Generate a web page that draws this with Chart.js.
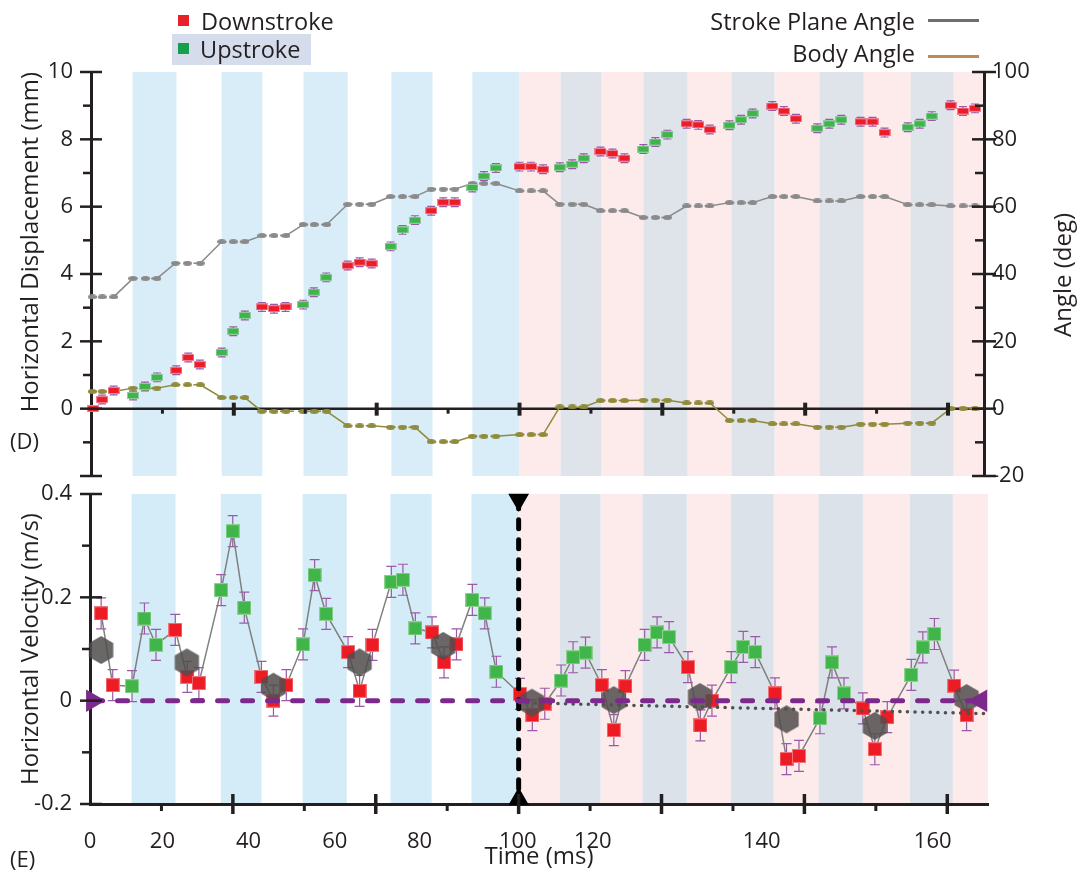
<!DOCTYPE html>
<html><head><meta charset="utf-8">
<script src="https://cdn.jsdelivr.net/npm/chart.js@4.4.1/dist/chart.umd.min.js"></script>
<style>
body{margin:0;background:#fff;}
#wrap{position:relative;width:1081px;height:879px;overflow:hidden;font-family:'Open Sans',sans-serif;color:#231f20;}
canvas{position:absolute;left:0;}
.t{position:absolute;font-size:23.5px;height:30px;line-height:30px;white-space:nowrap;}
.b{position:absolute;}
</style></head><body>
<div id="wrap">
<canvas id="top" width="1081" height="495" style="top:0;width:1081px;height:495px"></canvas>
<canvas id="bot" width="1081" height="399" style="top:480px;width:1081px;height:399px"></canvas>
<div class="b" style="left:178px;top:15px;width:11px;height:11px;background:#e8202a"></div>
<div class="t" style="left:201px;top:6px">Downstroke</div>
<div class="b" style="left:172px;top:34px;width:139px;height:31px;background:#d5dcec"></div>
<div class="b" style="left:178px;top:43px;width:11px;height:11px;background:#14a04b"></div>
<div class="t" style="left:200px;top:34px">Upstroke</div>
<div class="t" style="right:166px;top:6px">Stroke Plane Angle</div>
<div class="b" style="left:928px;top:19px;width:51px;height:3px;background:#6d6e71"></div>
<div class="t" style="right:166px;top:38px">Body Angle</div>
<div class="b" style="left:928px;top:55px;width:51px;height:3px;background:#c08a55"></div>
<div class="t" style="left:1062px;top:275px;font-size:24px;transform:translate(-50%,-50%) rotate(-90deg);">Angle (deg)</div>
<div class="t" style="left:10px;top:425px;font-size:22px">(D)</div>
<div class="t" style="left:10px;top:843px;font-size:22px">(E)</div>
</div>
<script>
// ---------- DATA ----------
const upBands   = [[9.7,19.95],[30.5,40.0],[49.6,59.9],[70.1,79.7],[89.0,100.0]];
const downBands = [[100.0,109.6],[119.1,128.9],[139.2,149.5],[159.5,170.0],[180.3,191.3],[201.3,209.5]];
const lateUpBands = [[109.6,119.1],[128.9,139.2],[149.5,159.5],[170.0,180.3],[191.3,201.3]];

const downTime = [0.5,2.6,5.3,19.9,22.7,25.4,39.9,42.7,45.4,59.9,62.7,65.5,79.4,82.2,84.9,100.0,102.7,105.5,118.9,121.7,124.5,139.0,141.7,144.4,159.0,161.7,164.5,179.6,182.4,185.2,200.6,203.5,206.3];
const downDisp = [0.00,0.27,0.54,1.14,1.52,1.31,3.02,2.97,3.02,4.25,4.35,4.31,5.88,6.13,6.13,7.19,7.19,7.11,7.64,7.58,7.44,8.46,8.43,8.29,8.99,8.84,8.61,8.52,8.52,8.20,9.01,8.84,8.92];
const downDispErr = [0,0.13,0.13,0.13,0.13,0.13,0.13,0.13,0.13,0.13,0.13,0.13,0.13,0.13,0.13,0.13,0.13,0.13,0.13,0.13,0.13,0.13,0.13,0.13,0.13,0.13,0.13,0.13,0.13,0.13,0.13,0.13,0.13];

const upTime = [9.8,12.6,15.4,30.5,33.2,35.9,49.5,52.0,54.9,69.9,72.7,75.6,89.0,91.7,94.5,109.4,112.3,115.0,128.9,131.7,134.5,149.0,151.7,154.4,169.5,172.3,175.1,190.6,193.4,196.2];
const upDisp = [0.39,0.66,0.93,1.67,2.30,2.77,3.09,3.46,3.90,4.82,5.31,5.60,6.57,6.91,7.15,7.17,7.26,7.44,7.71,7.92,8.14,8.42,8.58,8.77,8.33,8.46,8.58,8.36,8.46,8.69];
const upDispErr = [0.13,0.13,0.13,0.13,0.13,0.13,0.13,0.13,0.13,0.13,0.13,0.13,0.13,0.13,0.13,0.13,0.13,0.13,0.13,0.13,0.13,0.13,0.13,0.13,0.13,0.13,0.13,0.13,0.13,0.13];

const angleTime = [0.3,2.6,5.3,9.8,12.7,15.4,19.7,22.5,25.5,30.5,33.2,35.9,39.9,42.7,45.5,49.5,52.1,55.0,59.9,62.7,65.5,69.9,72.7,75.6,79.4,82.2,84.9,89.0,91.7,94.5,100.0,102.7,105.5,109.4,112.3,115.0,118.9,121.7,124.5,128.9,131.7,134.5,139.0,141.7,144.4,149.0,151.7,154.4,159.0,161.7,164.5,169.5,172.3,175.1,179.6,182.4,185.2,190.6,193.4,196.2,200.6,203.5,206.3];
const strokePlane = [33.2,33.2,33.2,38.7,38.7,38.7,43.2,43.2,43.2,49.6,49.6,49.6,51.4,51.4,51.4,54.7,54.7,54.7,60.7,60.7,60.7,63.0,63.0,63.0,65.2,65.2,65.2,66.9,66.9,66.9,64.7,64.7,64.7,60.7,60.7,60.7,58.8,58.8,58.8,56.8,56.8,56.8,60.2,60.2,60.2,61.2,61.2,61.2,63.0,63.0,63.0,61.7,61.7,61.7,63.0,63.0,63.0,60.6,60.6,60.6,60.2,60.2,60.2];
const bodyAngle = [5.1,5.1,5.1,6.1,6.1,6.1,7.1,7.1,7.1,3.3,3.3,3.3,-0.8,-0.8,-0.8,-0.8,-0.8,-0.8,-5.1,-5.1,-5.1,-5.5,-5.5,-5.5,-9.8,-9.8,-9.8,-8.2,-8.2,-8.2,-7.7,-7.7,-7.7,0.5,0.5,0.5,2.4,2.4,2.4,2.5,2.5,2.5,1.7,1.7,1.7,-3.5,-3.5,-3.5,-4.5,-4.5,-4.5,-5.5,-5.5,-5.5,-4.6,-4.6,-4.6,-4.3,-4.3,-4.3,0.0,0.0,0.0];

const downVelTime = [2.6,5.3,19.9,22.7,25.4,40.0,42.8,45.8,60.2,62.9,65.9,79.8,82.6,85.5,100.3,103.2,106.1,119.4,122.2,124.9,139.5,142.4,145.1,159.8,162.5,165.4,180.3,183.1,186.0,201.6,204.5];
const downVel = [0.169,0.030,0.137,0.046,0.034,0.046,0.000,0.030,0.094,0.019,0.108,0.132,0.074,0.109,0.013,-0.028,-0.006,0.030,-0.057,0.028,0.065,-0.048,0.000,0.014,-0.113,-0.107,-0.015,-0.094,-0.032,0.029,-0.028];
const downVelErr = [0.03,0.03,0.03,0.03,0.03,0.03,0.03,0.03,0.03,0.03,0.03,0.03,0.03,0.03,0.03,0.03,0.03,0.03,0.03,0.03,0.03,0.03,0.03,0.03,0.03,0.03,0.03,0.03,0.03,0.03,0.03];

const upVelTime = [9.8,12.7,15.4,30.6,33.3,36.0,49.7,52.4,55.1,70.3,73.0,75.9,89.2,92.1,94.8,109.9,112.7,115.6,129.4,132.3,135.1,149.6,152.4,155.2,170.3,173.1,175.9,191.6,194.3,197.0];
const upVel = [0.028,0.159,0.108,0.214,0.328,0.180,0.109,0.243,0.168,0.230,0.234,0.140,0.195,0.169,0.056,0.039,0.084,0.093,0.108,0.132,0.123,0.065,0.104,0.094,-0.034,0.074,0.014,0.050,0.103,0.129];
const upVelErr = [0.03,0.03,0.03,0.03,0.03,0.03,0.03,0.03,0.03,0.03,0.03,0.03,0.03,0.03,0.03,0.03,0.03,0.03,0.03,0.03,0.03,0.03,0.03,0.03,0.03,0.03,0.03,0.03,0.03,0.03];

const meanTime = [2.6,22.6,42.8,62.9,82.4,103.1,122.2,142.3,162.5,183.1,204.5];
const meanVel = [0.098,0.074,0.027,0.074,0.106,-0.004,0.001,0.007,-0.036,-0.049,0.005];

const trendTime = [100.3,208.6];
const trendVel = [-0.004,-0.025];
const zeroLineTime = [0.6,207.8];
const zeroLineVel = [0,0];
const markerTime = [100,100];
const markerVel = [0.389,-0.191];

const timeTickValues = [0,16.9,37.0,57.1,76.9,99.8,117.3,156.7,196.6];
const timeTickLabels = ['0','20','40','60','80','100','120','140','160'];
const timeMajorTicks = [33.33,66.67,100,133.33,166.67,200];
const timeMinorTicks = [16.67,50,83.33,116.67,150,183.33];
const dispMajorTicks = [-2,0,2,4,6,8,10];
const dispMinorTicks = [-1,1,3,5,7,9];
const angleMajorTicks = [-20,0,20,40,60,80,100];
const angleMinorTicks = [-10,10,30,50,70,90];
const velMajorTicks = [-0.2,0,0.2,0.4];
const velMinorTicks = [-0.1,0.1,0.3];

// ---------- HELPERS ----------
const INK = '#231f20';
Chart.defaults.font.family = "'Open Sans', sans-serif";
Chart.defaults.color = INK;

function rectImg(w,h,fill,edge){
  const c=document.createElement('canvas');c.width=w;c.height=h;
  const g=c.getContext('2d');g.fillStyle=edge;g.fillRect(0,0,w,h);g.fillStyle=fill;g.fillRect(1,1,w-2,h-2);return c;
}
function ellImg(w,h,fill){
  const c=document.createElement('canvas');c.width=w;c.height=h;
  const g=c.getContext('2d');g.fillStyle=fill;g.beginPath();g.ellipse(w/2,h/2,w/2,h/2,0,0,Math.PI*2);g.fill();return c;
}
function hexImg(r,fill){
  const w=Math.ceil(Math.sqrt(3)*r)+2,h=2*r+2;
  const c=document.createElement('canvas');c.width=w;c.height=h;
  const g=c.getContext('2d');g.fillStyle=fill;g.beginPath();
  for(let k=0;k<6;k++){const a=(-90+60*k)*Math.PI/180;const px=w/2+r*Math.cos(a),py=h/2+r*Math.sin(a);k?g.lineTo(px,py):g.moveTo(px,py);}
  g.closePath();g.fill();return c;
}
const pts=(xs,ys)=>xs.map((x,i)=>({x,y:ys[i]}));

function decoPlugin(spec){
  return {
    id:'deco',
    beforeDraw(chart){
      const {ctx,chartArea:a,scales:{x}}=chart;
      ctx.save();ctx.beginPath();ctx.rect(a.left,a.top,a.right-a.left,a.bottom-a.top);ctx.clip();
      for(const b of spec.bands){
        ctx.fillStyle=b.color;
        for(const [s,e] of b.ranges){const x0=x.getPixelForValue(s),x1=x.getPixelForValue(e);ctx.fillRect(x0,a.top,x1-x0,a.bottom-a.top);}
      }
      ctx.restore();
    },
    beforeDatasetsDraw(chart){
      const {ctx,chartArea:a}=chart;
      ctx.save();
      if(spec.zero){
        const y=chart.scales[spec.zero.scale].getPixelForValue(spec.zero.value);
        ctx.strokeStyle=INK;ctx.lineWidth=spec.zero.width;ctx.beginPath();ctx.moveTo(a.left,y);ctx.lineTo(a.right,y);ctx.stroke();
      }
      ctx.strokeStyle='#9a5aa6';ctx.lineWidth=1.2;
      chart.data.datasets.forEach((ds,i)=>{
        if(!ds.errorBars)return;
        const meta=chart.getDatasetMeta(i);const ys=chart.scales[meta.yAxisID];
        meta.data.forEach((el,j)=>{
          const e=ds.errorBars[j];if(!e)return;
          const v=ds.data[j].y;const y1=ys.getPixelForValue(v+e),y2=ys.getPixelForValue(v-e);const px=el.x,c=spec.errCap;
          ctx.beginPath();ctx.moveTo(px,y1);ctx.lineTo(px,y2);
          ctx.moveTo(px-c,y1);ctx.lineTo(px+c,y1);ctx.moveTo(px-c,y2);ctx.lineTo(px+c,y2);ctx.stroke();
        });
      });
      ctx.restore();
    },
    afterDraw(chart){
      const {ctx,chartArea:a}=chart;
      ctx.save();ctx.strokeStyle=INK;ctx.lineCap='butt';
      for(const m of spec.marks){
        const sc=chart.scales[m.scale];
        let at;
        if(m.at==='left')at=a.left;else if(m.at==='right')at=a.right;else if(m.at==='bottom')at=a.bottom;
        else at=chart.scales[m.at.scale].getPixelForValue(m.at.value);
        ctx.lineWidth=m.w;
        for(const v of m.values){
          const p=sc.getPixelForValue(v);ctx.beginPath();
          if(sc.isHorizontal()){ctx.moveTo(p,at-m.before);ctx.lineTo(p,at+m.after);}
          else{ctx.moveTo(at-m.before,p);ctx.lineTo(at+m.after,p);}
          ctx.stroke();
        }
      }
      ctx.restore();
    }
  };
}

const bandSetsTop=[{ranges:upBands,color:'#d8edf7'},{ranges:downBands,color:'#fdeaea'},{ranges:lateUpBands,color:'#dfe3ea'}];
const bandSetsBot=[{ranges:upBands,color:'#d4ecf8'},{ranges:downBands,color:'#fdeaea'},{ranges:lateUpBands,color:'#dce2ea'}];

const flatDash = c => (c.p0.parsed.y===c.p1.parsed.y ? [5,4] : undefined);
const fixV = w => s => { s.width = w; s.paddingTop = 0; s.paddingBottom = 0; };

// ---------- TOP CHART ----------
new Chart(document.getElementById('top'),{
  type:'scatter',
  data:{datasets:[
    {label:'Stroke Plane Angle',data:pts(angleTime,strokePlane),yAxisID:'y1',showLine:true,borderColor:'#8a8a8a',borderWidth:1.5,
     pointStyle:ellImg(9,5,'#8a8a8a'),pointRadius:5,segment:{borderDash:flatDash},clip:false,order:3},
    {label:'Body Angle',data:pts(angleTime,bodyAngle),yAxisID:'y1',showLine:true,borderColor:'#8e8b3c',borderWidth:1.5,
     pointStyle:ellImg(9,5,'#8e8b3c'),pointRadius:5,segment:{borderDash:flatDash},clip:false,order:3},
    {label:'Downstroke',data:pts(downTime,downDisp),yAxisID:'y',pointStyle:rectImg(12,7,'#ee1d25','#e9859a'),pointRadius:6,errorBars:downDispErr,clip:false,order:1},
    {label:'Upstroke',data:pts(upTime,upDisp),yAxisID:'y',pointStyle:rectImg(12,7,'#3db54a','#93c9a0'),pointRadius:6,errorBars:upDispErr,clip:false,order:1}
  ]},
  options:{
    responsive:false,animation:false,events:[],
    layout:{autoPadding:false,padding:{top:72,bottom:19,left:0,right:0}},
    plugins:{legend:{display:false},tooltip:{enabled:false}},
    scales:{
      x:{type:'linear',display:false,min:0,max:208.4},
      y:{position:'left',min:-2,max:10,afterFit:fixV(91),grid:{display:false,drawTicks:false,tickLength:0},border:{display:true,color:INK,width:3},
         ticks:{stepSize:2,padding:18,font:{size:22},callback:v=>(v<0?'':String(v))},
         title:{display:true,text:'Horizontal Displacement (mm)',align:'end',font:{size:24},padding:{top:17,bottom:0}}},
      y1:{position:'right',min:-20,max:100,afterFit:fixV(97),grid:{display:false,drawTicks:false,tickLength:0},border:{display:true,color:INK,width:3},
         ticks:{stepSize:20,padding:8,font:{size:22}},
         title:{display:false}}
    }
  },
  plugins:[decoPlugin({bands:bandSetsTop,zero:{scale:'y',value:0,width:2.5},errCap:4,marks:[
    {scale:'x',at:{scale:'y',value:0},values:timeMajorTicks,before:6,after:7,w:4},
    {scale:'x',at:{scale:'y',value:0},values:timeMinorTicks,before:0,after:5,w:3},
    {scale:'y',at:'left',values:dispMajorTicks,before:11,after:11,w:2.5},
    {scale:'y',at:'left',values:dispMinorTicks,before:8,after:0,w:2.5},
    {scale:'y1',at:'right',values:angleMajorTicks,before:12,after:12,w:2.5},
    {scale:'y1',at:'right',values:angleMinorTicks,before:9,after:0,w:2.5}
  ]})]
});

// ---------- BOTTOM CHART ----------
const velSeries=[...pts(downVelTime,downVel),...pts(upVelTime,upVel)].sort((a,b)=>a.x-b.x);

new Chart(document.getElementById('bot'),{
  type:'scatter',
  data:{datasets:[
    {label:'zero',data:pts(zeroLineTime,zeroLineVel),showLine:true,borderColor:'#7b2a8b',borderWidth:5,borderDash:[10,15],borderCapStyle:'round',
     pointStyle:'triangle',pointRotation:[90,-90],pointRadius:8,pointBackgroundColor:'#7b2a8b',pointBorderColor:'#7b2a8b',order:0,clip:false},
    {label:'trend',data:pts(trendTime,trendVel),showLine:true,borderColor:'#505050',borderWidth:3.5,borderDash:[0.1,7.5],borderCapStyle:'round',pointRadius:0,order:0,clip:false},
    {label:'t100',data:pts(markerTime,markerVel),showLine:true,borderColor:'#000',borderWidth:5,borderDash:[9,11],borderCapStyle:'round',
     pointStyle:'triangle',pointRotation:[180,0],pointRadius:7,pointBackgroundColor:'#000',pointBorderColor:'#000',order:1,clip:false},
    {label:'mean',data:pts(meanTime,meanVel),pointStyle:hexImg(14,'rgba(80,76,76,0.85)'),pointRadius:14,order:2,clip:false},
    {label:'Downstroke',data:pts(downVelTime,downVel),pointStyle:rectImg(14,14,'#ed1c24','#f2737a'),pointRadius:7,errorBars:downVelErr,order:3,clip:false},
    {label:'Upstroke',data:pts(upVelTime,upVel),pointStyle:rectImg(14,14,'#40b549','#8fd08f'),pointRadius:7,errorBars:upVelErr,order:3,clip:false},
    {label:'path',data:velSeries,showLine:true,borderColor:'#808080',borderWidth:1.5,pointRadius:0,order:4}
  ]},
  options:{
    responsive:false,animation:false,events:[],
    layout:{autoPadding:false,padding:{top:14,bottom:0,left:0,right:93}},
    plugins:{legend:{display:false},tooltip:{enabled:false}},
    scales:{
      x:{type:'linear',min:0,max:209.5,afterFit:s=>{s.height=75;s.paddingLeft=0;s.paddingRight=0;},
         afterBuildTicks:s=>{s.ticks=timeTickValues.map(v=>({value:v}));},
         grid:{display:false,drawTicks:false,tickLength:0},border:{display:true,color:INK,width:3},
         ticks:{autoSkip:false,maxRotation:0,padding:25,font:{size:22},callback:(v,i)=>timeTickLabels[i]},
         title:{display:true,text:'Time (ms)',font:{size:24},padding:{top:0,bottom:7}}},
      y:{min:-0.2,max:0.4,afterFit:fixV(90),grid:{display:false,drawTicks:false,tickLength:0},border:{display:true,color:INK,width:3},
         ticks:{stepSize:0.2,padding:18,font:{size:22},callback:v=>(Math.abs(v)<1e-9?'0':v.toFixed(1))},
         title:{display:true,text:'Horizontal Velocity (m/s)',font:{size:24},padding:{top:17,bottom:0}}}
    }
  },
  plugins:[decoPlugin({bands:bandSetsBot,errCap:5,marks:[
    {scale:'x',at:'bottom',values:timeMajorTicks,before:10,after:10,w:3.5},
    {scale:'x',at:'bottom',values:timeMinorTicks,before:0,after:7,w:3},
    {scale:'y',at:'left',values:velMajorTicks,before:10,after:12,w:2.5},
    {scale:'y',at:'left',values:velMinorTicks,before:8,after:0,w:2.5}
  ]})]
});
</script>
</body></html>
